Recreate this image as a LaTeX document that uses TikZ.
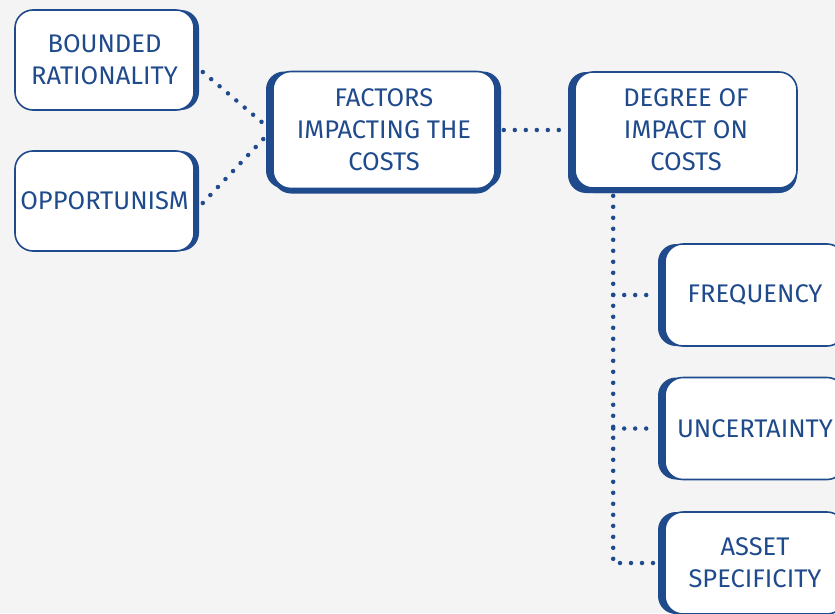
\documentclass[tikz,border=0pt]{standalone}
\usepackage{fontspec}
\setmainfont{Fira Sans}
\usetikzlibrary{calc}
\definecolor{boxblue}{HTML}{1F4A8B}
\definecolor{bggrey}{HTML}{F4F4F4}
\tikzset{
  box/.style={draw=boxblue, line width=1.6pt, fill=white, rounded corners=18pt,
    text=boxblue, align=center, inner sep=0pt,
    font=\fontsize{25.5}{32}\selectfont},
  thickR/.style={preaction={fill=boxblue, transform canvas={xshift=5pt}}},
  thickL/.style={preaction={fill=boxblue, transform canvas={xshift=-7pt}}},
  thickB/.style={preaction={fill=boxblue, transform canvas={yshift=-5pt}}},
  thickLB/.style={preaction={fill=boxblue, transform canvas={shift={(-7pt,-5pt)}}}},
  dotline/.style={draw=boxblue, line width=4.5pt, line cap=round, dash pattern=on 0pt off 11pt}
}
\begin{document}
\begin{tikzpicture}[x=1pt, y=-1pt]
\useasboundingbox (0,0) rectangle (835,613);
\fill[bggrey] (0,0) rectangle (835,613);
\begin{scope}
\clip (0,0) rectangle (835,613);
\node[box, thickR, minimum width=179pt, minimum height=100pt] (br) at (104.5,60) {BOUNDED\\RATIONALITY};
\node[box, thickR, minimum width=179pt, minimum height=100pt] (opp) at (104.5,201) {OPPORTUNISM};
\node[box, thickL, thickB, preaction={fill=boxblue, transform canvas={xshift=6pt}}, minimum width=222pt, minimum height=117pt] (fac) at (384,130) {FACTORS\\IMPACTING THE\\COSTS};
\node[box, thickLB, thickL, thickB, minimum width=222pt, minimum height=116pt] (deg) at (686,130) {DEGREE OF\\IMPACT ON\\COSTS};
\node[box, thickL, minimum width=180pt, minimum height=102pt] (freq) at (755,295) {FREQUENCY};
\node[box, thickL, minimum width=180pt, minimum height=102pt] (unc) at (755,428.5) {UNCERTAINTY};
\node[box, thickL, minimum width=180pt, minimum height=102pt] (asset) at (755,563) {ASSET\\SPECIFICITY};
\end{scope}
\coordinate (spine) at ($(deg.south west)+(39,7)$);
\draw[dotline] ($(br.east)+(8,12)$) -- ($(fac.west)+(-7,-5)$);
\draw[dotline] ($(opp.east)+(8,2)$) -- ($(fac.west)+(-7,7)$);
\draw[dotline] ($(fac.east)+(8,0)$) -- ($(deg.west)+(-8,0)$);
\draw[dotline] (spine) |- ($(asset.west)+(-8,0)$);
\draw[dotline] (spine |- freq.west) -- ($(freq.west)+(-8,0)$);
\draw[dotline] (spine |- unc.west) -- ($(unc.west)+(-8,0)$);
\end{tikzpicture}
\end{document}
